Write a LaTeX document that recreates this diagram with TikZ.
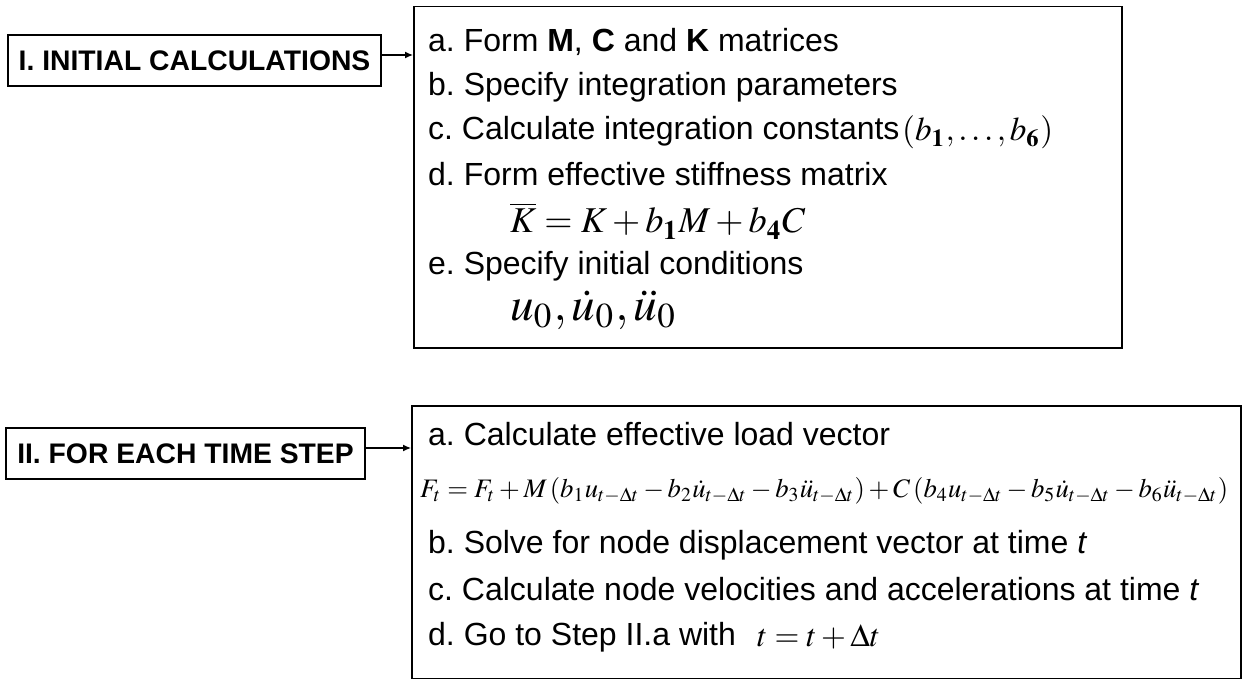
\documentclass[tikz,border=0pt]{standalone}
\usepackage{mathptmx}
\usepackage{graphicx}
\usepackage{fontspec}
\setmainfont{Liberation Sans}
\usetikzlibrary{arrows.meta}
\frenchspacing
\begin{document}
\begin{tikzpicture}[x=1pt,y=-1pt,
  lbl/.style={draw,line width=1.5pt,inner sep=0pt,font=\fontsize{28.3}{34}\selectfont\bfseries},
  panel/.style={draw,line width=1.5pt,inner sep=0pt,anchor=north west},
  body/.style={anchor=base west,inner sep=0pt,font=\fontsize{32}{38}\selectfont},
  eqn/.style={anchor=base west,inner sep=0pt},
  conn/.style={-{Latex[length=8pt,width=7pt]},line width=1.3pt}]
\useasboundingbox (0,0) rectangle (1243,679);
% panels
\node[panel,minimum width=708pt,minimum height=341pt] (p1) at (413,6) {};
\node[panel,minimum width=829pt,minimum height=273pt] (p2) at (411,405) {};
% labels
\node[lbl,minimum width=373pt,minimum height=51pt] (l1) at (194.5,60.5) {I. INITIAL CALCULATIONS};
\node[lbl,minimum width=359pt,minimum height=51pt] (l2) at (185.5,453.5) {II. FOR EACH TIME STEP};
\coordinate (a1) at (0,55);
\coordinate (a2) at (0,448);
\draw[conn] (l1.east |- a1) -- (p1.west |- a1);
\draw[conn] (l2.east |- a2) -- (p2.west |- a2);
% panel 1 text
\node[body] (t1a) at (428,52) {a. Form \textbf{M}, \textbf{C} and \textbf{K} matrices};
\node[body] (t1b) at (428,96) {b. Specify integration parameters};
\node[body] (t1c) at (428,140) {c. Calculate integration constants};
\node[eqn] (e1c) at (902,141) {\resizebox{151pt}{!}{$\left(b_{\mathbf 1},\ldots,b_{\mathbf 6}\right)$}};
\node[body] (t1d) at (428,186) {d. Form effective stiffness matrix};
\node[eqn] (e1d) at (510,233) {\resizebox{295pt}{!}{$\overline{K} = K + b_{\mathbf 1}M + b_{\mathbf 4}C$}};
\node[body] (t1e) at (428,275) {e. Specify initial conditions};
\node[eqn] (e1e) at (510,320) {\resizebox{167pt}{!}{$u_0,\dot u_0,\ddot u_0$}};
% panel 2 text
\node[body] (t2a) at (428,445) {a. Calculate effective load vector};
\node[eqn] (e2a) at (420,497) {\resizebox{808pt}{!}{$F_t = F_t + M\left(b_1 u_{t-\Delta t} - b_2 \dot u_{t-\Delta t} - b_3 \ddot u_{t-\Delta t}\right) + C\left(b_4 u_{t-\Delta t} - b_5 \dot u_{t-\Delta t} - b_6 \ddot u_{t-\Delta t}\right)$}};
\node[body] (t2b) at (428,553) {b. Solve for node displacement vector at time \textit{t}};
\node[body] (t2c) at (428,600) {c. Calculate node velocities and accelerations at time \textit{t}};
\node[body] (t2d) at (428,645) {d. Go to Step II.a with};
\node[eqn] (e2d) at (757,646) {\resizebox{123pt}{!}{$t = t + \Delta t$}};
\end{tikzpicture}
\end{document}
